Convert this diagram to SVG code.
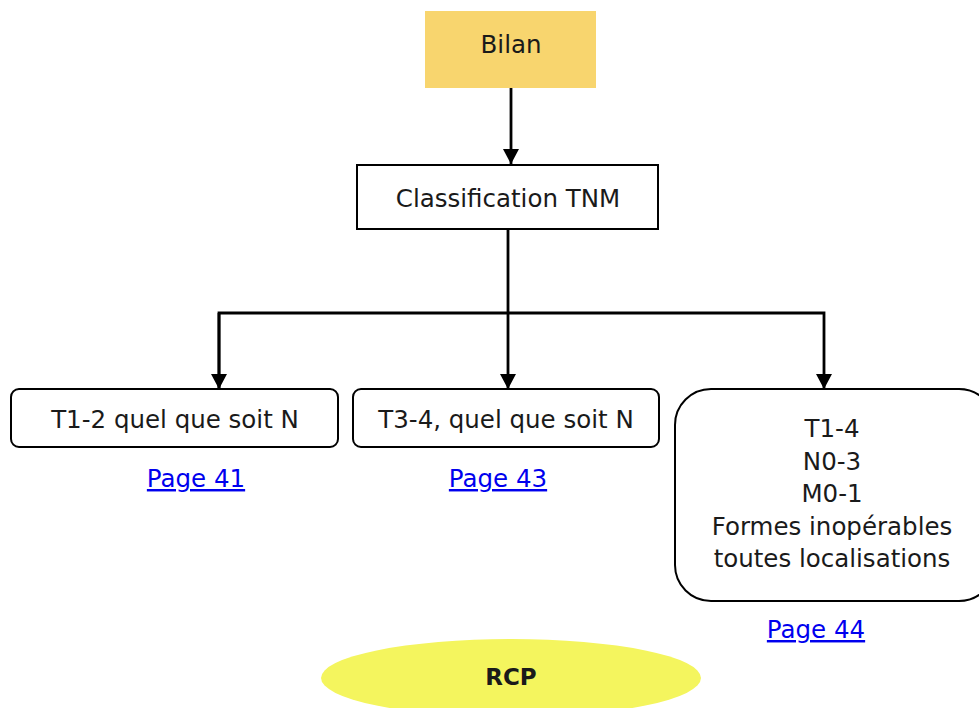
<svg xmlns="http://www.w3.org/2000/svg" width="979" height="708" viewBox="0 0 979 708">
<defs>
<marker id="arr" markerWidth="16" markerHeight="18" refX="15" refY="9" orient="auto" markerUnits="userSpaceOnUse" viewBox="0 0 16 18">
<path d="M0,1 L15,9 L0,17 z" fill="#000"/>
</marker>
<style>
text{font-family:"DejaVu Sans","Liberation Sans",sans-serif;font-size:24.5px;fill:#1a1a1a;text-anchor:middle}
.box{fill:#fff;stroke:#000;stroke-width:2}
.link{fill:#0000ee;text-decoration:underline}
.c{fill:none;stroke:#000;stroke-width:2.8}
</style>
</defs>
<g id="connectors">
<line class="c" x1="511" y1="88" x2="511" y2="164" marker-end="url(#arr)"/>
<line class="c" x1="508" y1="230" x2="508" y2="389" marker-end="url(#arr)"/>
<polyline class="c" points="219,389 219,313 824,313 824,389" marker-end="url(#arr)"/>
<line class="c" x1="219" y1="313" x2="219" y2="389" marker-end="url(#arr)"/>
</g>
<g id="bilan">
<rect x="425" y="11" width="171" height="77" fill="#F8D56E"/>
<text x="511" y="53">Bilan</text>
</g>
<g id="tnm">
<rect class="box" x="357" y="165" width="301" height="64"/>
<text x="508" y="207">Classification TNM</text>
</g>
<g id="t12">
<rect class="box" x="11" y="389" width="327" height="58" rx="8"/>
<text x="175" y="428">T1-2 quel que soit N</text>
<text class="link" x="196" y="487">Page 41</text>
</g>
<g id="t34">
<rect class="box" x="353" y="389" width="306" height="58" rx="8"/>
<text x="506" y="428">T3-4, quel que soit N</text>
<text class="link" x="498" y="487">Page 43</text>
</g>
<g id="t14">
<rect class="box" x="675" y="389" width="320" height="212" rx="36"/>
<text x="832" y="437">T1-4</text>
<text x="832" y="470">N0-3</text>
<text x="832" y="502">M0-1</text>
<text x="832" y="535">Formes inopérables</text>
<text x="832" y="567">toutes localisations</text>
<text class="link" x="816" y="638">Page 44</text>
</g>
<g id="rcp">
<ellipse cx="511" cy="678" rx="190" ry="39" fill="#F4F55E"/>
<text x="511" y="685" style="font-weight:bold;font-size:23px">RCP</text>
</g>
</svg>
